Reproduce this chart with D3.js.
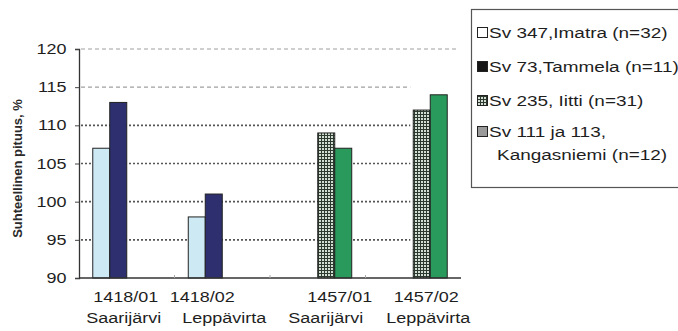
<!DOCTYPE html>
<html>
<head>
<meta charset="utf-8">
<script src="https://cdn.jsdelivr.net/npm/d3@7"></script>
<style>
  html, body { margin: 0; padding: 0; background: #fff; }
  svg { display: block; font-family: "Liberation Sans", Arial, sans-serif; }
</style>
</head>
<body>
<svg id="chart" width="678" height="331"></svg>
<script>
// Clone codes and planting sites along the x axis
const categories = ["1418/01", "1418/02", "1457/01", "1457/02"];
const sites = ["Saarijärvi", "Leppävirta", "Saarijärvi", "Leppävirta"];

// Seed origins (legend entries)
const seriesNames = [
  "Sv 347,Imatra (n=32)",
  "Sv 73,Tammela (n=11)",
  "Sv 235, Iitti (n=31)",
  "Sv 111 ja 113, Kangasniemi (n=12)"
];

// Relative height, % (null = origin not tested on that clone)
const imatra      = [107, 98, null, null];
const tammela     = [113, 101, null, null];
const iitti       = [null, null, 109, 112];
const kangasniemi = [null, null, 107, 114];

const yTicks = [90, 95, 100, 105, 110, 115, 120];
const yTitle = "Suhteellinen pituus, %";

const seriesValues = [imatra, tammela, iitti, kangasniemi];

const svg = d3.select("#chart");
const plot = { left: 79, right: 461, top: 49, bottom: 278 };
const WIDE = 1.24;           // horizontal stretch of the lettering
const FONT = 14.5;
const LEGEND_FONT = 15.3;

// Pattern for the Iitti bars: fine dark grid over a pale fill
const defs = svg.append("defs");
const pat = defs.append("pattern")
  .attr("id", "grid")
  .attr("patternUnits", "userSpaceOnUse")
  .attr("width", 3).attr("height", 3);
pat.append("rect").attr("width", 3).attr("height", 3).attr("fill", "#d3ddd3");
pat.append("rect").attr("width", 3).attr("height", 1).attr("fill", "#2c392e");
pat.append("rect").attr("width", 1).attr("height", 3).attr("fill", "#2c392e");

const barFill = ["#cdeaf4", "#2d2f6e", "url(#grid)", "#2a9a5c"];
const legendFill = ["#ffffff", "#151515", "url(#grid)", "#9a9a9a"];

const x0 = d3.scaleBand()
  .domain(categories)
  .range([plot.left, plot.right])
  .paddingInner(0).paddingOuter(0);

const x1 = d3.scaleBand()
  .domain(d3.range(seriesNames.length))
  .range([0, x0.bandwidth()])
  .paddingInner(0).paddingOuter(0.81);

const y = d3.scaleLinear().domain([90, 120]).range([plot.bottom, plot.top]);

// Gridlines: dashed at the top two levels, dotted below;
// the lower ones stop where the last bar group begins
const lastGroupX = x0(categories[3]) + x1(2);
const grid = svg.append("g");
grid.selectAll("line")
  .data(yTicks.filter(d => d > 90))
  .join("line")
  .attr("x1", plot.left + 2)
  .attr("x2", d => d === 120 ? plot.right - 4 : lastGroupX - 3)
  .attr("y1", d => y(d)).attr("y2", d => y(d))
  .attr("stroke", d => d >= 115 ? "#a0a0a0" : "#555")
  .attr("stroke-width", d => d >= 115 ? 1.2 : 1.7)
  .attr("stroke-dasharray", d => d >= 115 ? "4,3" : "2,2");

// Bars
const bars = [];
seriesValues.forEach((vals, s) => {
  vals.forEach((v, c) => {
    if (v != null) bars.push({ s, c, v });
  });
});

svg.append("g").selectAll("rect")
  .data(bars)
  .join("rect")
  .attr("x", d => x0(categories[d.c]) + x1(d.s))
  .attr("width", x1.bandwidth())
  .attr("y", d => y(d.v))
  .attr("height", d => y(90) - y(d.v))
  .attr("fill", d => barFill[d.s])
  .attr("stroke", "#222")
  .attr("stroke-width", 1);

// Y axis
const yAxis = d3.axisLeft(y).tickValues(yTicks).tickSize(4).tickPadding(6);
const ya = svg.append("g")
  .attr("transform", `translate(${plot.left},0)`)
  .call(yAxis);
ya.select(".domain").attr("stroke", "#333").attr("stroke-width", 1.3);
ya.selectAll(".tick line").attr("stroke", "#444");
ya.selectAll(".tick text")
  .attr("font-size", FONT).attr("fill", "#1e1e1e")
  .attr("font-family", "Liberation Sans, Arial, sans-serif")
  .attr("transform", `scale(${WIDE},1)`);

// X axis with small boundary ticks between categories
svg.append("line")
  .attr("x1", plot.left).attr("x2", plot.right)
  .attr("y1", plot.bottom).attr("y2", plot.bottom)
  .attr("stroke", "#333").attr("stroke-width", 1.3);
svg.append("g").selectAll("line")
  .data(categories.slice(1))
  .join("line")
  .attr("x1", d => x0(d)).attr("x2", d => x0(d))
  .attr("y1", plot.bottom - 3).attr("y2", plot.bottom)
  .attr("stroke", "#aaa");

// Category labels: clone code on the first line, site on the second
const codeShift = [-1, -20, 22, 13];
const siteShift = [-3, 2, 8, 15];
const xl = svg.append("g").attr("font-size", FONT).attr("fill", "#1e1e1e").attr("text-anchor", "middle");
xl.selectAll("text.code")
  .data(categories)
  .join("text")
  .attr("class", "code")
  .attr("transform", (d, i) =>
    `translate(${x0(d) + x0.bandwidth() / 2 + codeShift[i]},302) scale(${WIDE},1)`)
  .text(d => d);
xl.selectAll("text.site")
  .data(sites)
  .join("text")
  .attr("class", "site")
  .attr("transform", (d, i) =>
    `translate(${x0(categories[i]) + x0.bandwidth() / 2 + siteShift[i]},323) scale(${WIDE},1)`)
  .text(d => d);

// Y axis title
svg.append("text")
  .attr("transform", `translate(22,${(plot.top + plot.bottom) / 2 + 5}) rotate(-90)`)
  .attr("text-anchor", "middle")
  .attr("font-size", 13)
  .attr("font-weight", "bold")
  .attr("fill", "#2a2a2a")
  .text(yTitle);

// Legend
const lg = svg.append("g");
lg.append("rect")
  .attr("x", 471.5).attr("y", 9.5)
  .attr("width", 230).attr("height", 178)
  .attr("fill", "#fff").attr("stroke", "#555").attr("stroke-width", 1.2);

const legendRows = [
  { s: 0, lines: ["Sv 347,Imatra (n=32)"], cy: 33 },
  { s: 1, lines: ["Sv 73,Tammela (n=11)"], cy: 67 },
  { s: 2, lines: ["Sv 235, Iitti (n=31)"], cy: 101 },
  { s: 3, lines: ["Sv 111 ja 113,", "Kangasniemi (n=12)"], cy: 132 }
];
const items = lg.selectAll("g.item").data(legendRows).join("g").attr("class", "item");
items.append("rect")
  .attr("x", 477.5).attr("y", d => d.cy - 5.5)
  .attr("width", 10).attr("height", 10)
  .attr("fill", d => legendFill[d.s])
  .attr("stroke", "#222");
items.each(function(d) {
  d3.select(this).selectAll("text")
    .data(d.lines)
    .join("text")
    .attr("transform", (t, i) => `translate(${d.s === 3 && i > 0 ? 497 : 489},${d.cy + 5 + i * 23}) scale(${WIDE},1)`)
    .attr("font-size", LEGEND_FONT)
    .attr("fill", "#1e1e1e")
    .text(t => t);
});
</script>
</body>
</html>
